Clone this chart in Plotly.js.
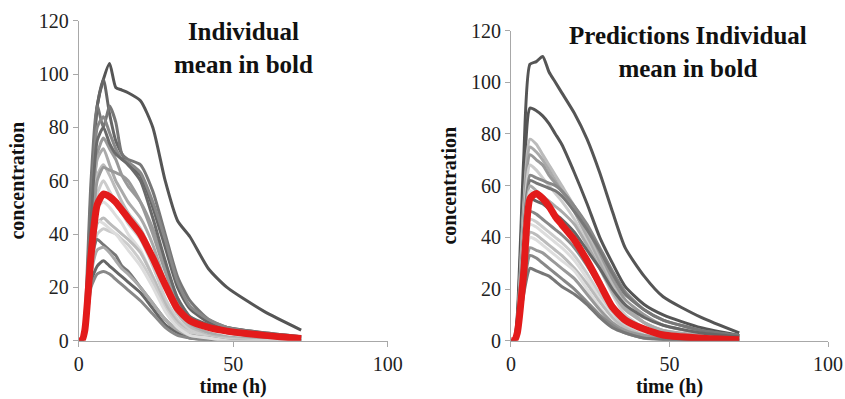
<!DOCTYPE html>
<html>
<head>
<meta charset="utf-8">
<script src="https://cdn.plot.ly/plotly-3.0.1.min.js"></script>
<style>html,body{margin:0;padding:0;background:#fff;}#chart{width:845px;height:399px;}</style>
</head>
<body>
<div id="chart"></div>
<script>
// time points (h)
const time = [0, 1, 2, 4, 6, 8, 10, 12, 14, 16, 20, 24, 28, 32, 36, 42, 48, 60, 72];

// Left panel: observed individual profiles
const leftIndividuals = [
  [0,0,5,55,88,98,104,95,94,93,90,80,60,45,39,27,20,11,4],
  [0,0,5,50,88,98,85,75,70,66,62,50,35,20,12,7,5,3,1.5],
  [0,0,8,60,88,80,88,82,70,68,66,56,40,24,15,8,5,3,1.5],
  [0,0,6,45,80,84,78,72,68,67,63,52,38,22,13,8,5,2.5,1],
  [0,0,4,40,70,76,72,68,62,58,52,42,28,16,9,5,3,1.5,0.5],
  [0,0,5,42,68,72,66,60,56,52,46,36,22,12,6,3,1.5,0.5,0],
  [0,0,4,38,62,66,62,57,52,48,42,32,20,10,5,2,1,0,0],
  [0,0,3,34,55,60,56,52,48,44,38,28,16,8,4,1.5,0.5,0,0],
  [0,0,3,30,50,52,50,47,44,40,34,24,13,6,3,1,0,0,0],
  [0,0,2,28,44,46,44,42,40,38,33,24,14,7,3,1,0,0,0],
  [0,0,2,25,40,42,41,40,38,36,30,22,12,6,3,1,0,0,0],
  [0,0,3,30,38,36,34,32,28,26,20,14,8,4,2,1,0,0,0],
  [0,0,2,22,28,30,28,26,24,22,18,12,6,3,1,0.5,0,0,0],
  [0,0,2,20,25,26,25,23,21,19,15,10,5,2,1,0,0,0,0],
  [0,0,2,25,34,35,33,30,27,25,20,14,8,4,2,1,0,0,0],
  [0,0,3,35,45,44,42,40,37,34,28,20,11,5,2,1,0,0,0],
  [0,0,3,35,60,65,64,63,62,60,52,40,26,14,8,5,3,1.5,0.5],
  [0,0,4,45,75,80,74,70,68,66,60,46,30,16,9,6,4,2,1]
];
const leftColors = ['#555555','#666666','#777777','#888888','#999999','#aaaaaa','#bbbbbb','#cccccc','#dddddd','#bbbbbb','#cccccc','#777777','#666666','#888888','#aaaaaa','#dddddd','#999999','#6a6a6a'];
const leftMean = [0,0,4,32,51,55,54,52,49,46,40,31,21,12,7.5,5,3.6,2,0.8];

// Right panel: predicted individual profiles
const rightIndividuals = [
  [0,0,10,70,107,108,110,104,100,96,88,78,65,50,36,25,17,9,3],
  [0,0,8,60,90,89,87,84,80,76,65,53,40,30,21,14,10,5,2],
  [0,0,6,52,78,76,72,68,64,60,52,42,32,22,14,7,3,1,0],
  [0,0,6,50,75,73,70,66,62,58,50,40,30,20,13,7,4,2,0.5],
  [0,0,5,48,72,70,68,64,61,58,52,44,34,24,16,10,6,3,1.5],
  [0,0,5,45,68,66,63,60,57,54,47,38,28,18,10,5,2,0.5,0],
  [0,0,5,42,64,63,62,61,60,58,52,45,36,27,19,12,8,4,2],
  [0,0,5,40,62,61,60,59,58,56,50,43,35,26,18,12,8,4,2],
  [0,0,4,40,60,58,56,54,52,50,45,37,28,19,12,7,4,2,1],
  [0,0,4,38,58,56,54,51,48,46,40,32,23,14,8,3,1,0,0],
  [0,0,4,36,55,54,53,51,49,47,42,35,28,20,14,9,6,3,1.5],
  [0,0,3,32,50,49,47,45,43,41,36,29,21,14,9,5,3,1,0.5],
  [0,0,3,30,47,46,44,42,40,38,33,26,18,11,6,2,1,0,0],
  [0,0,3,28,45,44,42,40,38,36,31,24,16,9,4,1,0,0,0],
  [0,0,3,27,42,41,39,37,35,33,28,22,15,9,5,2,1,0,0],
  [0,0,3,26,40,39,37,35,33,31,27,20,13,7,3,1,0,0,0],
  [0,0,2,22,36,35,34,32,30,28,24,18,12,7,4,2,1,0.5,0],
  [0,0,2,20,33,32,30,28,26,24,20,15,10,6,3,1,0.5,0,0],
  [0,0,2,18,28,27,26,25,23,21,18,14,9,5,3,1,0.5,0,0]
];
const rightColors = ['#555555','#555555','#bbbbbb','#aaaaaa','#999999','#cccccc','#888888','#777777','#aaaaaa','#dddddd','#666666','#888888','#cccccc','#dddddd','#bbbbbb','#dddddd','#999999','#888888','#777777'];
const rightMean = [0,0,3,26,55,57,55,52,48,45,39,31,22,13,8,4.5,2.2,1,0.4];

const traces = [];
const greyLine = (c) => ({color: c, width: 3, shape: 'spline', smoothing: 0.6});
leftIndividuals.forEach((y, i) => traces.push({
  x: time, y: y, xaxis: 'x', yaxis: 'y', type: 'scatter', mode: 'lines',
  line: greyLine(leftColors[i]), hoverinfo: 'skip'
}));
traces.push({x: time, y: leftMean, xaxis: 'x', yaxis: 'y', type: 'scatter', mode: 'lines',
  line: {color: '#e31b1b', width: 7, shape: 'spline', smoothing: 0.6}, name: 'mean'});
rightIndividuals.forEach((y, i) => traces.push({
  x: time, y: y, xaxis: 'x2', yaxis: 'y2', type: 'scatter', mode: 'lines',
  line: greyLine(rightColors[i]), hoverinfo: 'skip'
}));
traces.push({x: time, y: rightMean, xaxis: 'x2', yaxis: 'y2', type: 'scatter', mode: 'lines',
  line: {color: '#e31b1b', width: 7, shape: 'spline', smoothing: 0.6}, name: 'mean'});

const serif = '"Liberation Serif", "Times New Roman", serif';
const tickFont = {family: serif, size: 20, color: '#222'};
const titleFont = {family: serif, size: 20, color: '#111', weight: 'bold'};
function xAx(domain, anchor) {
  return {domain: domain, anchor: anchor, range: [0, 100], dtick: 50, tick0: 0,
    showline: true, linecolor: '#a8a8a8', linewidth: 1, ticks: 'outside', ticklen: 5,
    tickcolor: '#a8a8a8', showgrid: false, zeroline: false, tickfont: tickFont,
    title: {text: 'time (h)', font: titleFont, standoff: 2}, fixedrange: true};
}
function yAx(domain, anchor) {
  return {domain: domain, anchor: anchor, range: [0, 120], dtick: 20, tick0: 0,
    showline: true, linecolor: '#a8a8a8', linewidth: 1, ticks: 'outside', ticklen: 5,
    tickcolor: '#a8a8a8', showgrid: false, zeroline: false, tickfont: tickFont,
    title: {text: 'concentration', font: titleFont, standoff: 8}, fixedrange: true};
}

const layout = {
  width: 845, height: 399,
  margin: {l: 0, r: 0, t: 0, b: 0},
  paper_bgcolor: '#fff', plot_bgcolor: '#fff',
  showlegend: false,
  xaxis: xAx([0.0931, 0.4588], 'y'),
  yaxis: yAx([0.1461, 0.948], 'x'),
  xaxis2: xAx([0.6047, 0.9799], 'y2'),
  yaxis2: yAx([0.1461, 0.9233], 'x2'),
  annotations: [
    {text: 'Individual<br>mean in bold', xref: 'paper', yref: 'paper', x: 0.2876, y: 0.8797,
     xanchor: 'center', yanchor: 'middle', showarrow: false,
     font: {family: serif, size: 25, color: '#111', weight: 'bold'}},
    {text: 'Predictions Individual<br>mean in bold', xref: 'paper', yref: 'paper', x: 0.8142, y: 0.8697,
     xanchor: 'center', yanchor: 'middle', showarrow: false,
     font: {family: serif, size: 25, color: '#111', weight: 'bold'}}
  ]
};
Plotly.newPlot('chart', traces, layout, {displayModeBar: false, staticPlot: true});
</script>
</body>
</html>
